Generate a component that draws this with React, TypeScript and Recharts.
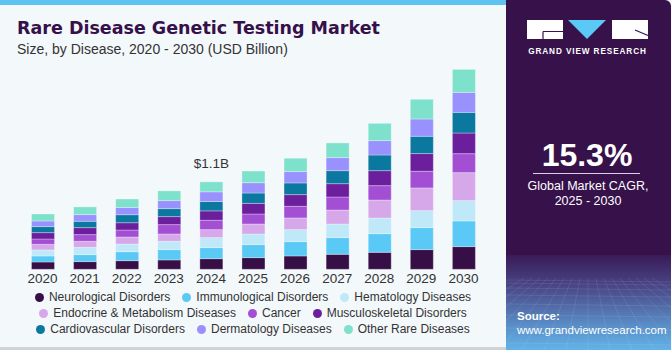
import React from "react";
import { BarChart, Bar, XAxis, YAxis, LabelList } from "recharts";

const years = ["2020", "2021", "2022", "2023", "2024", "2025", "2026", "2027", "2028", "2029", "2030"];
const neurological = [0.092, 0.097, 0.109, 0.118, 0.134, 0.147, 0.168, 0.189, 0.214, 0.248, 0.286];
const immunological = [0.076, 0.088, 0.113, 0.130, 0.139, 0.164, 0.181, 0.210, 0.235, 0.277, 0.323];
const hematology = [0.076, 0.092, 0.097, 0.105, 0.126, 0.134, 0.151, 0.172, 0.197, 0.214, 0.256];
const endocrine = [0.071, 0.076, 0.088, 0.092, 0.101, 0.126, 0.147, 0.176, 0.227, 0.286, 0.353];
const cancer = [0.067, 0.084, 0.088, 0.118, 0.118, 0.126, 0.147, 0.164, 0.181, 0.210, 0.239];
const musculoskeletal = [0.080, 0.088, 0.092, 0.101, 0.118, 0.134, 0.147, 0.168, 0.189, 0.223, 0.260];
const cardiovascular = [0.076, 0.080, 0.101, 0.101, 0.118, 0.130, 0.147, 0.164, 0.197, 0.218, 0.260];
const dermatology = [0.071, 0.084, 0.092, 0.101, 0.122, 0.130, 0.143, 0.164, 0.181, 0.218, 0.252];
const otherRare = [0.088, 0.097, 0.105, 0.122, 0.126, 0.147, 0.168, 0.185, 0.218, 0.248, 0.290];
const topLabels = ["", "", "", "", "$1.1B", "", "", "", "", "", ""];

const seriesKeys = ["neuro", "immuno", "hema", "endo", "cancer", "musculo", "cardio", "derma", "other"];
const seriesNames = [
  "Neurological Disorders",
  "Immunological Disorders",
  "Hematology Diseases",
  "Endocrine & Metabolism Diseases",
  "Cancer",
  "Musculoskeletal Disorders",
  "Cardiovascular Disorders",
  "Dermatology Diseases",
  "Other Rare Diseases",
];
const seriesColors = ["#360f47", "#5bc9f5", "#bfe9f8", "#d6a8ea", "#a34fd4", "#6c1f9c", "#0a789f", "#9891fe", "#7de1cc"];
const seriesValues = [neurological, immunological, hematology, endocrine, cancer, musculoskeletal, cardiovascular, dermatology, otherRare];

const legendRows = [[0, 1, 2], [3, 4, 5], [6, 7, 8]];

const data = years.map((year, i) => {
  const row: Record<string, any> = { year, label: topLabels[i] };
  seriesKeys.forEach((k, s) => {
    row[k] = seriesValues[s][i];
  });
  return row;
});

const FONT = "'Liberation Sans', Arial, sans-serif";

export default function App() {
  return (
    <div style={{ position: "absolute", left: 0, top: 0, width: 671, height: 350, background: "#f3f8fb", overflow: "hidden", fontFamily: FONT }}>
      {/* top stripe */}
      <div style={{ position: "absolute", left: 0, top: 0, width: 510, height: 5, background: "#5ec3ee" }} />
      {/* bottom line */}
      <div style={{ position: "absolute", left: 0, top: 347, width: 671, height: 3, background: "#cfd3d6" }} />
      {/* title */}
      <svg width={500} height={60} style={{ position: "absolute", left: 0, top: 0 }}>
        <text x={17} y={33.5} fill="#35104a" fontSize={17.5} fontWeight={700} fontFamily="'DejaVu Sans', sans-serif">
          Rare Disease Genetic Testing Market
        </text>
        <text x={17} y={54} fill="#333" fontSize={14} fontFamily={FONT}>
          Size, by Disease, 2020 - 2030 (USD Billion)
        </text>
      </svg>

      <div style={{ position: "absolute", left: 0, top: 0 }}>
        <BarChart width={500} height={350} data={data} margin={{ top: 60, right: 15.5, bottom: 60.7, left: 21.5 }} barSize={23}>
          <XAxis
            dataKey="year"
            axisLine={false}
            tickLine={false}
            tickSize={0}
            tickMargin={4}
            height={20}
            interval={0}
            tick={{ fill: "#333", fontSize: 13.5, fontFamily: FONT }}
          />
          <YAxis hide domain={[0, 2.637]} />
          {seriesKeys.map((k, s) => (
            <Bar
              key={k}
              dataKey={k}
              stackId="a"
              fill={seriesColors[s]}
              stroke="#ffffff"
              strokeOpacity={0.3}
              strokeWidth={1}
              isAnimationActive={false}
            >
              {s === seriesKeys.length - 1 ? (
                <LabelList dataKey="label" position="top" offset={14} fill="#333" fontSize={13.5} fontFamily={FONT} />
              ) : null}
            </Bar>
          ))}
        </BarChart>
      </div>

      {/* legend */}
      <div style={{ position: "absolute", left: 0, top: 289, width: 506 }}>
        {legendRows.map((row, r) => (
          <div key={r} style={{ display: "flex", justifyContent: "center", height: 16, alignItems: "center" }}>
            {row.map((s) => (
              <div key={s} style={{ display: "flex", alignItems: "center", margin: "0 6px" }}>
                <span style={{ width: 9, height: 9, borderRadius: 5, background: seriesColors[s], display: "inline-block", marginRight: 5 }} />
                <span style={{ fontSize: 12, color: "#333", whiteSpace: "nowrap" }}>{seriesNames[s]}</span>
              </div>
            ))}
          </div>
        ))}
      </div>

      {/* right panel */}
      <div style={{ position: "absolute", left: 506, top: 0, width: 165, height: 350, background: "#36114a", borderTopRightRadius: 6, overflow: "hidden" }}>
        <div style={{ position: "absolute", left: 0, top: 255, width: 165, height: 95, background: "linear-gradient(180deg, #3a1a58 0%, #4a4a8a 35%, #5a8fc8 75%, #62b3e8 100%)" }} />
        <svg width={165} height={350} style={{ position: "absolute", left: 0, top: 0 }}>
          <g stroke="#ffffff" strokeOpacity={0.13} strokeWidth={0.7} fill="none">
            {[0, 1, 2, 3, 4, 5, 6, 7, 8, 9, 10, 11, 12, 13, 14, 15, 16].map((i) => (
              <line key={"v" + i} x1={82 + (i - 8) * 8} y1={278} x2={82 + (i - 8) * 22} y2={350} />
            ))}
            {[0, 1, 2, 3, 4, 5, 6, 7, 8].map((i) => (
              <line key={"h" + i} x1={0} y1={280 + i * i * 1.0 + i * 2} x2={165} y2={282 + i * i * 1.0 + i * 2} />
            ))}
          </g>
          {/* logo */}
          <rect x={21} y={20} width={36} height={19} fill="#ffffff" />
          <path d="M37 31.5 H57 M37 31.5 V39" stroke="#36114a" strokeWidth={1.2} fill="none" />
          <polygon points="62,20 100,20 81,39" fill="#5bc9f5" />
          <rect x={106} y={20} width={36} height={19} fill="#ffffff" />
          <path d="M129 30 L142 35.5" stroke="#36114a" strokeWidth={1.2} fill="none" />
          <text x={81.5} y={53.5} textAnchor="middle" fill="#ffffff" fontSize={8.2} fontWeight={700} letterSpacing={0.9} fontFamily={FONT}>
            GRAND VIEW RESEARCH
          </text>
          {/* CAGR */}
          <text x={81} y={166} textAnchor="middle" fill="#ffffff" fontSize={32} fontWeight={700} fontFamily={FONT}>
            15.3%
          </text>
          <line x1={27} y1={173.5} x2={134} y2={173.5} stroke="#d9cfe6" strokeWidth={1} />
          <text x={82} y={189.5} textAnchor="middle" fill="#ffffff" fontSize={12.5} fontFamily={FONT}>
            Global Market CAGR,
          </text>
          <text x={82} y={205} textAnchor="middle" fill="#ffffff" fontSize={12.5} fontFamily={FONT}>
            2025 - 2030
          </text>
          {/* source */}
          <text x={11} y={320} fill="#ffffff" fontSize={11.5} fontWeight={700} fontFamily={FONT}>
            Source:
          </text>
          <text x={11} y={334} fill="#ffffff" fontSize={11.5} fontFamily={FONT}>
            www.grandviewresearch.com
          </text>
        </svg>
      </div>
    </div>
  );
}
